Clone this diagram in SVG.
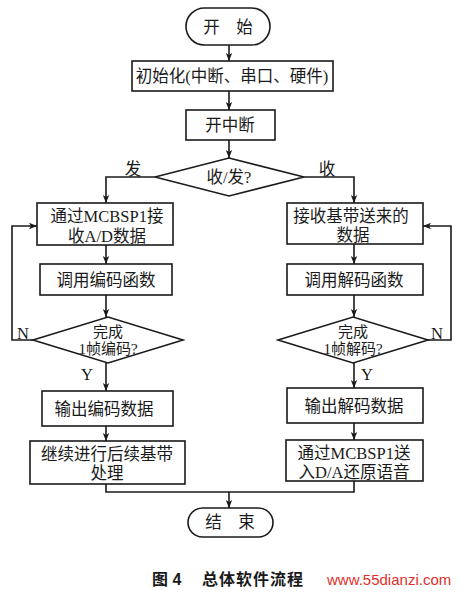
<svg xmlns="http://www.w3.org/2000/svg" width="461" height="593" viewBox="0 0 461 593">
<defs>
<marker id="ah" viewBox="0 0 8 8" refX="8" refY="4" markerWidth="8" markerHeight="8" markerUnits="userSpaceOnUse" orient="auto">
<path d="M0,0.8 L8,4 L0,7.2 L2,4 Z" fill="#1a1a1a"/>
</marker>
<style>
.s{fill:#fff;stroke:#1a1a1a;stroke-width:1.6}
.c{fill:none;stroke:#1a1a1a;stroke-width:1.6}
.t{font-family:"Liberation Serif","Noto Sans CJK SC",serif;font-size:16.5px;fill:#1a1a1a;text-anchor:middle}
.d{font-family:"Liberation Serif","Noto Sans CJK SC",serif;font-size:15px;fill:#1a1a1a;text-anchor:middle}
.l{font-family:"Liberation Serif","Noto Sans CJK SC",serif;font-size:16.5px;fill:#1a1a1a;text-anchor:middle}
.cap{font-family:"Liberation Sans","Noto Sans CJK SC",sans-serif;font-size:16px;font-weight:bold;fill:#1a1a1a}
.wm{font-family:"Liberation Sans",sans-serif;font-size:15px;fill:#e0302a}
</style>
</defs>
<rect width="461" height="593" fill="#fff"/>
<g id="connectors">
<line class="c" x1="229" y1="45" x2="229" y2="61" marker-end="url(#ah)"/>
<line class="c" x1="229" y1="91" x2="229" y2="110" marker-end="url(#ah)"/>
<line class="c" x1="229" y1="140" x2="229" y2="158" marker-end="url(#ah)"/>
<polyline class="c" points="155,177 106,177 106,203" marker-end="url(#ah)"/>
<polyline class="c" points="304,177 354,177 354,203" marker-end="url(#ah)"/>
<line class="c" x1="106" y1="245" x2="106" y2="264" marker-end="url(#ah)"/>
<line class="c" x1="354" y1="244" x2="354" y2="264" marker-end="url(#ah)"/>
<line class="c" x1="106" y1="295" x2="106" y2="317" marker-end="url(#ah)"/>
<line class="c" x1="354" y1="295" x2="354" y2="317" marker-end="url(#ah)"/>
<polyline class="c" points="33,340 12,340 12,226 37,226" marker-end="url(#ah)"/>
<polyline class="c" points="428,340 451,340 451,226 423,226" marker-end="url(#ah)"/>
<line class="c" x1="106" y1="363" x2="106" y2="391" marker-end="url(#ah)"/>
<line class="c" x1="354" y1="363" x2="354" y2="388" marker-end="url(#ah)"/>
<line class="c" x1="106" y1="426" x2="106" y2="441" marker-end="url(#ah)"/>
<line class="c" x1="354" y1="423" x2="354" y2="440" marker-end="url(#ah)"/>
<polyline class="c" points="106,484 106,492 354,492 354,481"/>
<line class="c" x1="229" y1="492" x2="229" y2="508" marker-end="url(#ah)"/>
<text class="l" x="133" y="175">发</text>
<text class="l" x="327" y="175">收</text>
<text class="l" x="23" y="339">N</text>
<text class="l" x="437" y="339">N</text>
<text class="l" x="87" y="380">Y</text>
<text class="l" x="367" y="380">Y</text>
</g>
<g id="start">
<rect class="s" x="186" y="8" width="84" height="37" rx="18.5"/>
<text class="t" x="228" y="33">开　始</text>
</g>
<g id="init">
<rect class="s" x="132" y="61" width="201" height="30"/>
<text class="t" x="232" y="82">初始化(中断、串口、硬件)</text>
</g>
<g id="enable-int">
<rect class="s" x="186" y="110" width="89" height="30"/>
<text class="t" x="230" y="131">开中断</text>
</g>
<g id="decide">
<polygon class="s" points="155,177 229,158 304,177 229,196"/>
<text class="t" x="229" y="183">收/发?</text>
</g>
<g id="recv-ad">
<rect class="s" x="37" y="203" width="136" height="42"/>
<text class="t" x="107" y="222">通过MCBSP1接</text>
<text class="t" x="107" y="242">收A/D数据</text>
</g>
<g id="recv-base">
<rect class="s" x="287" y="203" width="136" height="41"/>
<text class="t" x="351" y="222">接收基带送来的</text>
<text class="t" x="353" y="241">数据</text>
</g>
<g id="call-enc">
<rect class="s" x="40" y="264" width="132" height="31"/>
<text class="t" x="106" y="286">调用编码函数</text>
</g>
<g id="call-dec">
<rect class="s" x="287" y="264" width="136" height="31"/>
<text class="t" x="354" y="286">调用解码函数</text>
</g>
<g id="enc-done">
<polygon class="s" points="33,340 108,317 183,340 108,363"/>
<text class="d" x="108" y="337">完成</text>
<text class="d" x="108" y="354">1帧编码?</text>
</g>
<g id="dec-done">
<polygon class="s" points="278,340 353,317 428,340 353,363"/>
<text class="d" x="353" y="337">完成</text>
<text class="d" x="353" y="354">1帧解码?</text>
</g>
<g id="out-enc">
<rect class="s" x="42" y="391" width="131" height="35"/>
<text class="t" x="104" y="415">输出编码数据</text>
</g>
<g id="out-dec">
<rect class="s" x="287" y="388" width="136" height="35"/>
<text class="t" x="354" y="412">输出解码数据</text>
</g>
<g id="baseband">
<rect class="s" x="30" y="441" width="155" height="43"/>
<text class="t" x="107" y="460">继续进行后续基带</text>
<text class="t" x="107" y="479">处理</text>
</g>
<g id="to-da">
<rect class="s" x="286" y="440" width="137" height="41"/>
<text class="t" x="354" y="459">通过MCBSP1送</text>
<text class="t" x="354" y="478">入D/A还原语音</text>
</g>
<g id="end">
<rect class="s" x="188" y="508" width="85" height="29" rx="14.5"/>
<text class="t" x="230" y="528">结　束</text>
</g>
<g id="caption">
<text class="cap" x="152" y="585">图 4</text>
<text class="cap" x="202" y="585" letter-spacing="1">总体软件流程</text>
<text class="wm" x="327" y="585">www.55dianzi.com</text>
</g>
</svg>
